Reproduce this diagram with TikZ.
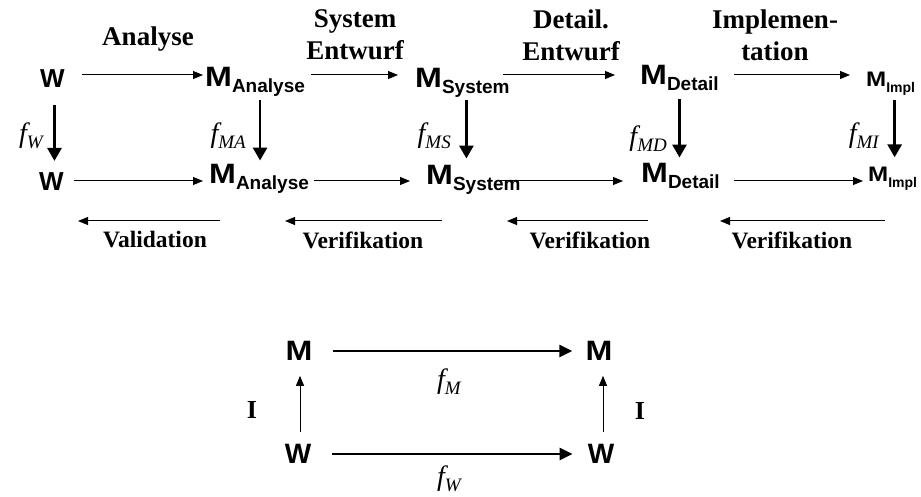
\documentclass[tikz,border=0pt]{standalone}
\usepackage{fontspec}
\usepackage{graphicx}
\setmainfont{Liberation Serif}
\setsansfont{Liberation Sans}
\usetikzlibrary{arrows.meta}

\newcommand{\Mw}[1][28]{\scalebox{1.15}[1]{\fontsize{#1}{#1}\selectfont M}}
\newcommand{\Msub}[3][19]{\Mw[#2]\raisebox{-6pt}{\fontsize{#1}{#1}\selectfont #3}}
\newcommand{\fsub}[1]{f\raisebox{-6pt}{\fontsize{19}{19}\selectfont #1}}

\begin{document}
\begin{tikzpicture}[x=1pt,y=-1pt,
    mod/.style={font=\sffamily\bfseries\fontsize{26}{26}\selectfont, inner sep=0pt, anchor=base west, text depth=0pt},
    big/.style={font=\sffamily\bfseries\fontsize{28}{28}\selectfont, inner sep=0pt},
    lbl/.style={font=\bfseries\fontsize{27}{32}\selectfont, align=center, inner sep=0pt},
    vlbl/.style={font=\bfseries\fontsize{23.5}{23.5}\selectfont, inner sep=0pt},
    flbl/.style={font=\itshape\fontsize{28}{28}\selectfont, inner sep=0pt},
    thinarr/.style={-{Triangle[length=10pt,width=8pt]}, line width=1pt},
    fatarr/.style={-{Triangle[length=13pt,width=14pt]}, line width=2.8pt},
    midarr/.style={-{Triangle[length=13pt,width=12pt]}, line width=2.8pt}]
    \useasboundingbox (0,0) rectangle (921,497);
    \coordinate (r1) at (0,75);
    \coordinate (r2) at (0,181);
    \node[mod] (w1) at (40,88) {W};
    \node[mod] (ma1) at (205,87) {\Msub{28}{Analyse}};
    \node[mod] (ms1) at (415,88) {\Msub{28}{System}};
    \node[mod] (md1) at (640,85) {\Msub{28}{Detail}};
    \node[mod] (mi1) at (866,87) {\Msub[14]{21}{Impl}};
    \node[mod] (w2) at (39,191) {W};
    \node[mod] (ma2) at (209,184) {\Msub{28}{Analyse}};
    \node[mod] (ms2) at (426,185) {\Msub{28}{System}};
    \node[mod] (md2) at (641,183) {\Msub{28}{Detail}};
    \node[mod] (mi2) at (868,182) {\Msub[14]{21}{Impl}};
    \node[lbl] (tan) at (148,39) {Analyse};
    \node[lbl] (tsy) at (355,35) {System\\Entwurf};
    \node[lbl] (tde) at (571,35) {Detail.\\Entwurf};
    \node[lbl] (tim) at (775,35) {Implemen-\\tation};
    \draw[thinarr, shorten <=17pt, shorten >=2pt] (w1.east |- r1) -- (ma1.west |- r1);
    \draw[thinarr, shorten <=6pt, shorten >=17pt] (ma1.east |- r1) -- (ms1.west |- r1);
    \draw[thinarr, shorten <=-7pt, shorten >=25pt] (ms1.east |- r1) -- (md1.west |- r1);
    \draw[thinarr, shorten <=15pt, shorten >=16pt] (md1.east |- r1) -- (mi1.west |- r1);
    \draw[thinarr, shorten <=10pt, shorten >=6pt] (w2.east |- r2) -- (ma2.west |- r2);
    \draw[thinarr, shorten <=5pt, shorten >=16pt] (ma2.east |- r2) -- (ms2.west |- r2);
    \draw[thinarr, shorten <=-21pt, shorten >=18pt] (ms2.east |- r2) -- (md2.west |- r2);
    \draw[thinarr, shorten <=14pt, shorten >=5pt] (md2.east |- r2) -- (mi2.west |- r2);
    \draw[fatarr, shorten <=17pt, shorten >=12pt] ([xshift=2pt]w1.south) -- ([xshift=2pt]w1.south |- w2.north);
    \draw[fatarr, shorten <=13pt, shorten >=4pt] ([xshift=5pt]ma1.south) -- ([xshift=5pt]ma1.south |- ma2.north);
    \draw[fatarr, shorten <=12pt, shorten >=7pt] ([xshift=4pt]ms1.south) -- ([xshift=4pt]ms1.south |- ms2.north);
    \draw[fatarr, shorten <=14pt, shorten >=6pt] (md1.south) -- (md1.south |- md2.north);
    \draw[fatarr, shorten <=13pt, shorten >=10pt] ([xshift=4pt]mi1.south) -- ([xshift=4pt]mi1.south |- mi2.north);
    \node[flbl, anchor=east] (fw) at (43,136) {\fsub{W}};
    \node[flbl, anchor=east] (fma) at (246,136) {\fsub{MA}};
    \node[flbl, anchor=east] (fms) at (451,136) {\fsub{MS}};
    \node[flbl, anchor=east] (fmd) at (667,139) {\fsub{MD}};
    \node[flbl, anchor=east] (fmi) at (879,136) {\fsub{MI}};
    \coordinate (v1a) at (220,221);
    \coordinate (v1b) at (78,221);
    \coordinate (v2a) at (442,221);
    \coordinate (v2b) at (285,221);
    \coordinate (v3a) at (648,221);
    \coordinate (v3b) at (507,221);
    \coordinate (v4a) at (885,221);
    \coordinate (v4b) at (720,221);
    \draw[thinarr] (v1a) -- (v1b);
    \draw[thinarr] (v2a) -- (v2b);
    \draw[thinarr] (v3a) -- (v3b);
    \draw[thinarr] (v4a) -- (v4b);
    \node[vlbl] (val) at (155,240) {Validation};
    \node[vlbl] (ver1) at (363,240) {Verifikation};
    \node[vlbl] (ver2) at (590,240) {Verifikation};
    \node[vlbl] (ver3) at (792,240) {Verifikation};
    \node[big] (bm1) at (299,351) {\Mw};
    \node[big] (bm2) at (599,351) {\Mw};
    \node[big] (bw1) at (298,454) {W};
    \node[big] (bw2) at (601,454) {W};
    \draw[midarr, shorten <=20pt, shorten >=13pt] (bm1.east) -- (bm2.west);
    \draw[midarr, shorten <=21pt, shorten >=15pt] (bw1.east) -- (bw2.west);
    \draw[thinarr, shorten <=12pt, shorten >=15pt] ([xshift=2pt]bw1.north) -- ([xshift=2pt]bw1.north |- bm1.south);
    \draw[thinarr, shorten <=12pt, shorten >=15pt] ([xshift=2pt]bw2.north) -- ([xshift=2pt]bw2.north |- bm2.south);
    \node[vlbl, font=\bfseries\fontsize{26}{26}\selectfont] (i1) at (252,410) {I};
    \node[vlbl, font=\bfseries\fontsize{26}{26}\selectfont] (i2) at (640,411) {I};
    \node[flbl] (fm) at (449,382) {\fsub{M}};
    \node[flbl] (fwb) at (449,479) {\fsub{W}};
\end{tikzpicture}
\end{document}
